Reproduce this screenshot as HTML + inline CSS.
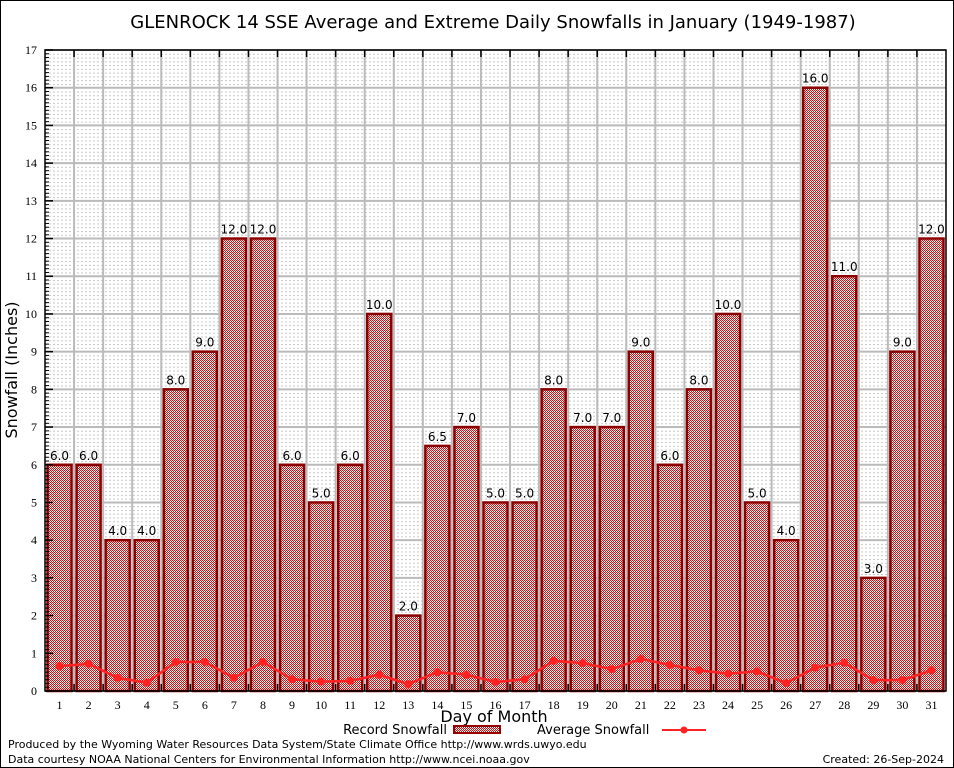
<!DOCTYPE html>
<html><head><meta charset="utf-8"><style>
body{margin:0;background:#fff}
svg{display:block}
text{font-family:"DejaVu Sans","Liberation Sans",sans-serif}
.tk{font-family:"Liberation Serif",serif;font-size:12px}
</style></head><body>
<svg id="chart" width="954" height="768" viewBox="0 0 954 768">
<defs>
<pattern id="hatch" width="2" height="2" patternUnits="userSpaceOnUse">
<rect width="2" height="2" fill="#fff"/>
<rect x="0" y="0" width="1" height="1" fill="#c41818"/>
<rect x="1" y="1" width="1" height="1" fill="#c41818"/>
<rect x="1" y="0" width="1" height="1" fill="#f4c8c8"/>
</pattern>
<pattern id="dots" width="4" height="3.77" patternUnits="userSpaceOnUse" x="45" y="50">
<rect x="0" y="0" width="2" height="1" fill="#c8c8c8"/>
</pattern>
</defs>
<rect x="0.5" y="0.5" width="953" height="767" fill="#fff" stroke="#000"/>
<text x="493" y="28" font-size="18" text-anchor="middle">GLENROCK 14 SSE Average and Extreme Daily Snowfalls in January (1949-1987)</text>
<rect x="45" y="50" width="901" height="641" fill="url(#dots)"/>
<g id="grid"></g>
<g id="bars"></g>
<g id="avg"></g>
<g id="axes"></g>
<text transform="translate(17,370) rotate(-90)" font-size="16" text-anchor="middle">Snowfall (Inches)</text>
<text x="494" y="722" font-size="16" text-anchor="middle">Day of Month</text>
<g>
<text x="447" y="734" font-size="13" text-anchor="end">Record Snowfall</text>
<rect x="454" y="726" width="46" height="7" fill="url(#hatch)" stroke="#900" stroke-width="2"/>
<text x="537" y="734" font-size="13">Average Snowfall</text>
<line x1="662" y1="730" x2="706" y2="730" stroke="#f22" stroke-width="2"/>
<circle cx="684" cy="730" r="3.5" fill="#f22"/>
</g>
<text x="8" y="748" font-size="11">Produced by the Wyoming Water Resources Data System/State Climate Office http://www.wrds.uwyo.edu</text>
<text x="8" y="763" font-size="11">Data courtesy NOAA National Centers for Environmental Information http://www.ncei.noaa.gov</text>
<text x="944" y="763" font-size="11" text-anchor="end">Created: 26-Sep-2024</text>
</svg>
<script>
const days=[1,2,3,4,5,6,7,8,9,10,11,12,13,14,15,16,17,18,19,20,21,22,23,24,25,26,27,28,29,30,31];
const recordValues=[6,6,4,4,8,9,12,12,6,5,6,10,2,6.5,7,5,5,8,7,7,9,6,8,10,5,4,16,11,3,9,12];
const averageValues=[0.66,0.72,0.35,0.22,0.77,0.77,0.35,0.77,0.31,0.25,0.27,0.43,0.18,0.5,0.43,0.24,0.31,0.8,0.74,0.58,0.85,0.69,0.55,0.46,0.52,0.21,0.62,0.75,0.29,0.29,0.55];
const yTicks=[0,1,2,3,4,5,6,7,8,9,10,11,12,13,14,15,16,17];
const NS="http://www.w3.org/2000/svg";
const L=45,R=946,T=50,B=691,YMAX=17;
const slot=(R-L)/days.length;
const x=i=>L+slot*(i+0.5);
const y=v=>B-(B-T)*v/YMAX;
function mk(tag,attrs,parent){const e=document.createElementNS(NS,tag);for(const k in attrs)e.setAttribute(k,attrs[k]);parent.appendChild(e);return e;}
const grid=document.getElementById('grid'),bars=document.getElementById('bars'),avg=document.getElementById('avg'),axes=document.getElementById('axes');
yTicks.forEach(t=>{
 const l=mk('line',{x1:L,x2:R,y1:y(t),y2:y(t),stroke:'#bbb','stroke-width':2},grid);
 
 
 const tx=mk('text',{x:L-8,y:y(t)+4,'text-anchor':'end',class:'tk'},axes);
 tx.textContent=t;
 
 
 const tk=mk('line',{x1:L,x2:L+8,y1:y(t),y2:y(t),stroke:'#000','stroke-width':1.5},axes);
 
 
 if(t<YMAX)for(let m=1;m<10;m++){const mm=mk('line',{x1:L,x2:L+4,y1:y(t+m/10),y2:y(t+m/10),stroke:'#000','stroke-width':1},axes);
 
 }
});
for(let i=1;i<days.length;i++){
 const gx=L+slot*i;
 const l=mk('line',{x1:gx,x2:gx,y1:T,y2:B,stroke:'#bbb','stroke-width':2},grid);
 
 
 const a=mk('line',{x1:gx,x2:gx,y1:T,y2:T+7,stroke:'#000','stroke-width':1.5},axes);
 
 
 const b=mk('line',{x1:gx,x2:gx,y1:B-7,y2:B,stroke:'#000','stroke-width':1.5},axes);
 
 
}
days.forEach((d,i)=>{
 const v=recordValues[i];
 const r=mk('rect',{x:x(i)-12,y:y(v),width:24,height:B-y(v),fill:'url(#hatch)',stroke:'#8b0000','stroke-width':2.5},bars);
 
 
 const lb=mk('text',{x:x(i),y:y(v)-5,'text-anchor':'middle','font-size':12},bars);
 lb.textContent=v.toFixed(1);
 
 
 const tx=mk('text',{x:x(i),y:B+18,'text-anchor':'middle',class:'tk'},axes);
 tx.textContent=d;
 
 
});
const pts=averageValues.map((v,i)=>x(i)+','+y(v)).join(' ');
const pl=mk('polyline',{points:pts,fill:'none',stroke:'#f22','stroke-width':2.5},avg);


averageValues.forEach((v,i)=>{const c=mk('circle',{cx:x(i),cy:y(v),r:4,fill:'#f22'},avg);
 
 });
const fr=mk('rect',{x:L,y:T,width:R-L,height:B-T,fill:'none',stroke:'#000','stroke-width':1.5},axes);


</script>
</body></html>
